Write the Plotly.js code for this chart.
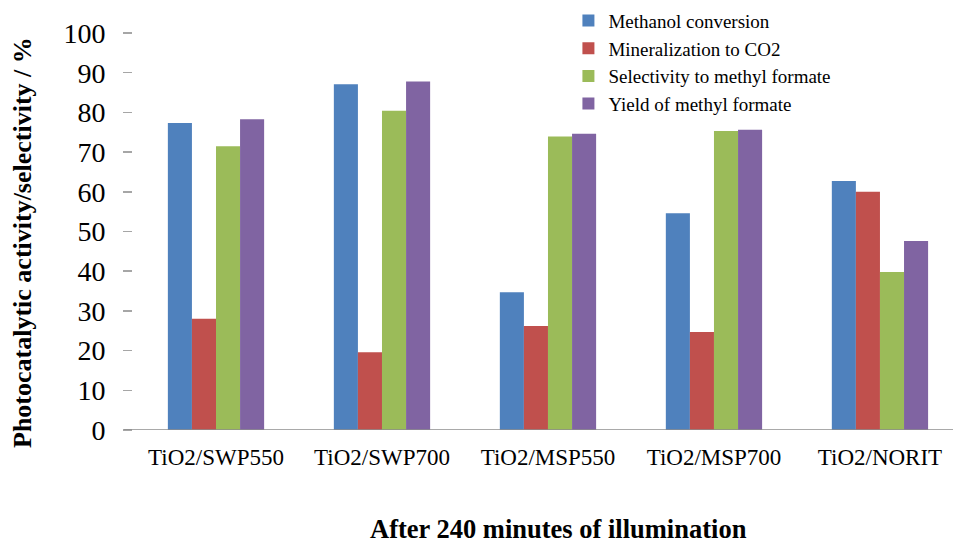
<!DOCTYPE html>
<html>
<head>
<meta charset="utf-8">
<script src="https://cdn.plot.ly/plotly-3.0.1.min.js"></script>
<style>html,body{margin:0;padding:0;background:#fff;}#chart{width:953px;height:546px;}</style>
</head>
<body>
<div id="chart"></div>
<script>
const categories = ["TiO2/SWP550", "TiO2/SWP700", "TiO2/MSP550", "TiO2/MSP700", "TiO2/NORIT"];
const methanolConversion = [77.3, 87.1, 34.7, 54.6, 62.7];
const mineralizationCO2 = [28.0, 19.6, 26.2, 24.7, 60.0];
const selectivityMF = [71.5, 80.4, 73.9, 75.3, 39.8];
const yieldMF = [78.3, 87.8, 74.6, 75.6, 47.6];
const seriesNames = ["Methanol conversion", "Mineralization to CO2", "Selectivity to methyl formate", "Yield of methyl formate"];
const colors = ["#4F81BD", "#C0504D", "#9BBB59", "#8064A2"];
const yTicks = [0, 10, 20, 30, 40, 50, 60, 70, 80, 90, 100];

const seriesValues = [methanolConversion, mineralizationCO2, selectivityMF, yieldMF];
const traces = seriesValues.map((vals, i) => ({
  type: "bar",
  name: seriesNames[i],
  x: categories,
  y: vals,
  marker: {color: colors[i], line: {width: 0}},
  hoverinfo: "y"
}));

const serif = "Liberation Serif, Times New Roman, serif";
const layout = {
  width: 953, height: 546,
  margin: {l: 133, r: 0, t: 33, b: 116},
  paper_bgcolor: "#fff", plot_bgcolor: "#fff",
  barmode: "group", bargap: 0.42, bargroupgap: 0,
  showlegend: true,
  legend: {
    x: 0.531, y: 1.079, xanchor: "left", yanchor: "top",
    font: {family: serif, size: 19, color: "#000"},
    bgcolor: "rgba(0,0,0,0)", tracegroupgap: 0, itemwidth: 30
  },
  xaxis: {
    type: "category", range: [-0.5, 4.44],
    showgrid: false, zeroline: false, showline: false, ticks: "",
    tickfont: {family: serif, size: 23, color: "#000"},
    ticklabelstandoff: 11
  },
  yaxis: {
    range: [0, 100], tickvals: yTicks, ticktext: yTicks.map(String),
    showgrid: false, zeroline: false, showline: false,
    ticks: "outside", ticklen: 9, tickwidth: 1.5, tickcolor: "#A6A6A6",
    tickfont: {family: serif, size: 28, color: "#000"},
    ticklabelstandoff: 12
  },
  annotations: [{
    text: "<b>Photocatalytic activity/selectivity / %</b>",
    xref: "paper", yref: "paper",
    x: (22 - 133) / 820, y: (430 - 243) / 397,
    xanchor: "center", yanchor: "middle",
    textangle: -90, showarrow: false,
    font: {family: serif, size: 26, color: "#000"}
  }, {
    text: "<b>After 240 minutes of illumination</b>",
    xref: "paper", yref: "paper",
    x: (558 - 133) / 820, y: (430 - 529) / 397,
    xanchor: "center", yanchor: "middle",
    showarrow: false,
    font: {family: serif, size: 26.5, color: "#000"}
  }],
  shapes: [{
    type: "line", xref: "paper", yref: "y",
    x0: -0.011, x1: 1, y0: 0, y1: 0,
    line: {color: "#8C8C8C", width: 1.5}
  }]
};

Plotly.newPlot("chart", traces, layout, {displayModeBar: false, staticPlot: true});
</script>
</body>
</html>
